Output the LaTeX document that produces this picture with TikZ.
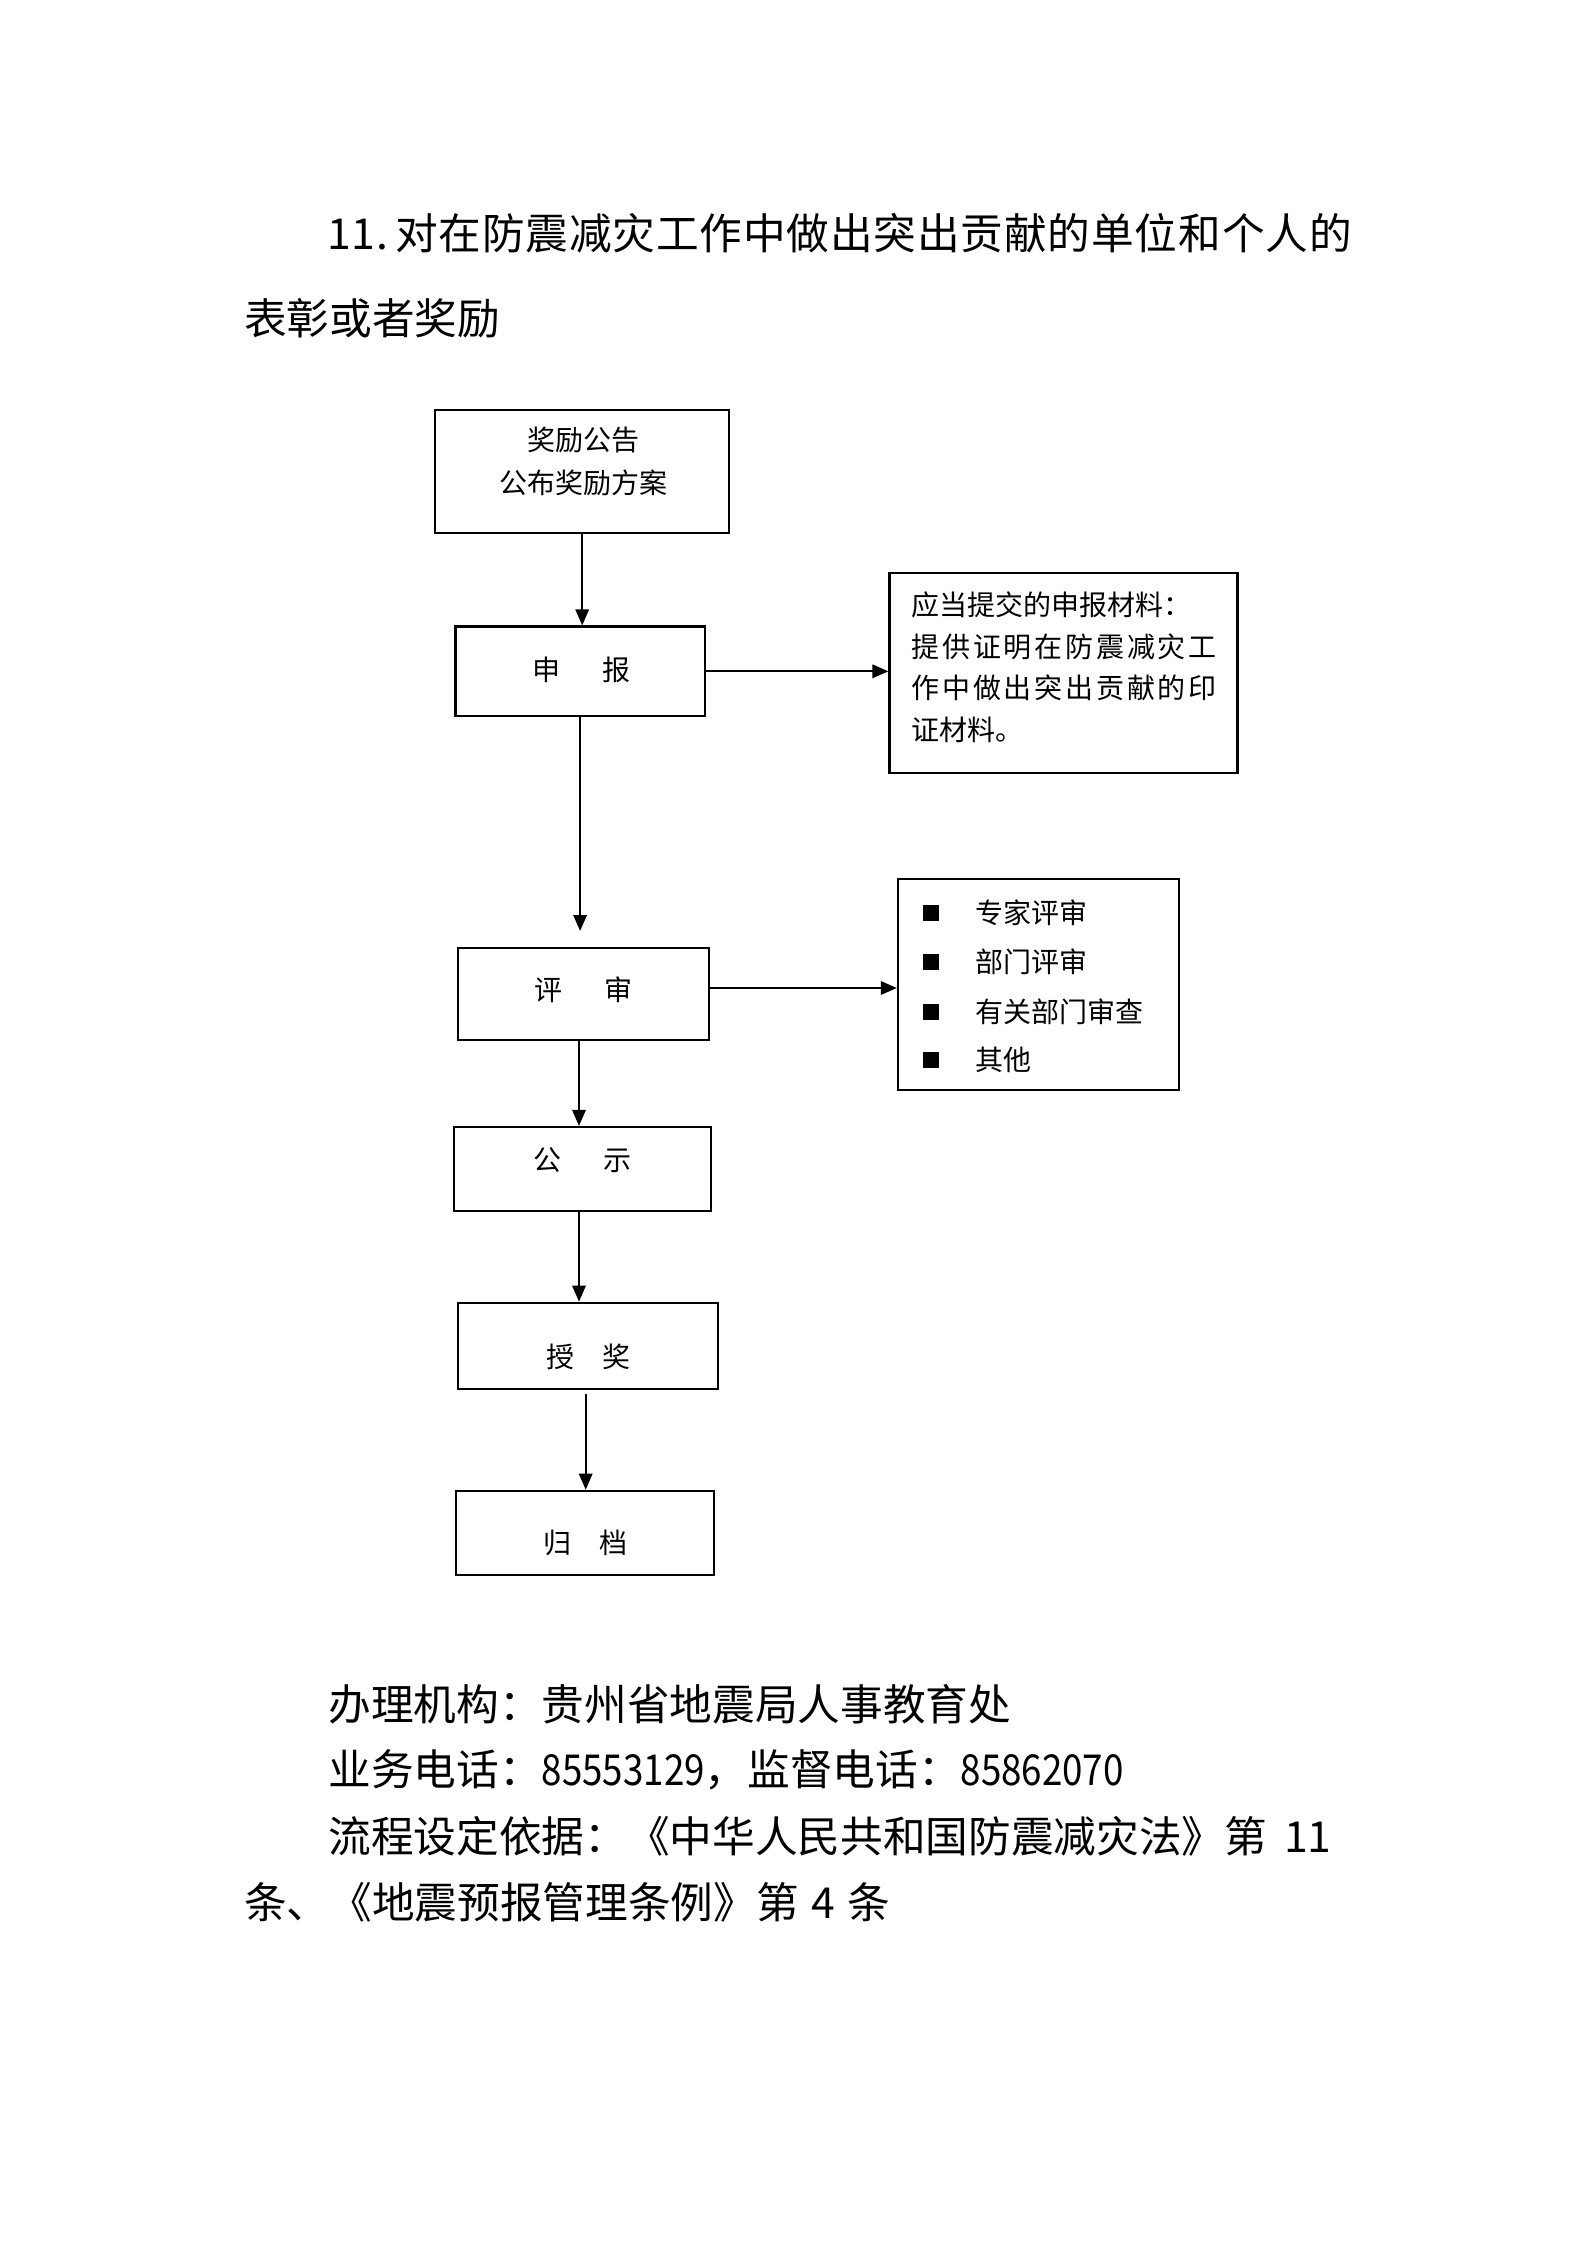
\documentclass[tikz,border=0pt]{standalone}
\usepackage{fontspec}
\usepackage{graphicx}
\setmainfont{Noto Sans CJK SC}
\usetikzlibrary{arrows.meta}
\newcommand{\dgt}[1]{\scalebox{0.86}[1]{#1}}
\begin{document}
\begin{tikzpicture}[x=0.375pt,y=-0.375pt,
  box/.style={draw,line width=0.8pt,inner sep=0pt},
  arr/.style={line width=0.8pt,-{Triangle[length=6pt,width=5pt]}},
  small/.style={font=\fontsize{10.5pt}{14pt}\selectfont,inner sep=0pt},
  big/.style={font=\fontsize{16pt}{20pt}\selectfont,inner sep=0pt,anchor=west},
  bul/.style={fill=black,inner sep=0pt,minimum size=6pt}]
\fill[white] (0,0) rectangle (1587,2245);
\useasboundingbox (0,0) rectangle (1587,2245);

% title
\node[big] (title1) at (326.6,233.5) {\addfontfeatures{LetterSpace=2}11.\,对在防震减灾工作中做出突出贡献的单位和个人的};
\node[big] (title2) at (243.5,318) {表彰或者奖励};

% boxes
\node[box,minimum width=110.1pt,minimum height=46.3pt] (b1) at (582.2,471.3) {};
\node[box,minimum width=93.5pt,minimum height=33.6pt] (sb) at (580.1,671.3) {};
\node[box,minimum width=130.5pt,minimum height=75pt] (r1) at (1063.5,673) {};
\node[box,minimum width=94.1pt,minimum height=34.5pt] (ps) at (583.5,994) {};
\node[box,minimum width=105.4pt,minimum height=79.1pt] (r2) at (1038.5,984.5) {};
\node[box,minimum width=96.4pt,minimum height=31.5pt] (gs) at (582.5,1169) {};
\node[box,minimum width=97.5pt,minimum height=32.25pt] (sj) at (587.7,1345.7) {};
\node[box,minimum width=96.9pt,minimum height=31.6pt] (gd) at (584.9,1532.9) {};

% box texts
\node[small] (t1a) at (583,440) {奖励公告};
\node[small] (t1b) at (583,483) {公布奖励方案};
\node[small] (tsb) at (581,670) {申\hspace{1.5em}报};
\node[small] (tps) at (583.6,990) {评\hspace{1.5em}审};
\node[small] (tgs) at (582,1160) {公\hspace{1.5em}示};
\node[small] (tsj) at (588,1357) {授\hspace{1em}奖};
\node[small] (tgd) at (585.5,1543) {归\hspace{1em}档};

% right box 1 text
\node[small,anchor=west] (r1a) at (911,605) {应当提交的申报材料：};
\node[small,anchor=west] (r1b) at (911,647) {\makebox[114.4pt][s]{提\hfill 供\hfill 证\hfill 明\hfill 在\hfill 防\hfill 震\hfill 减\hfill 灾\hfill 工}};
\node[small,anchor=west] (r1c) at (911,688) {\makebox[114.4pt][s]{作\hfill 中\hfill 做\hfill 出\hfill 突\hfill 出\hfill 贡\hfill 献\hfill 的\hfill 印}};
\node[small,anchor=west] (r1d) at (911,730) {证材料。};

% right box 2 bullets
\node[bul] (q1) at (931,913) {};
\node[bul] (q2) at (931,962) {};
\node[bul] (q3) at (931,1012) {};
\node[bul] (q4) at (931,1060) {};
\node[small,anchor=west] (l1) at (975.4,913) {专家评审};
\node[small,anchor=west] (l2) at (975.4,962) {部门评审};
\node[small,anchor=west] (l3) at (975.4,1012) {有关部门审查};
\node[small,anchor=west] (l4) at (975.4,1060) {其他};

% connectors
\coordinate (c2) at (580.1,931);
\coordinate (c3) at (579,1040);
\coordinate (c4) at (579,1211);
\coordinate (c5) at (585.7,1394);
\coordinate (c6) at (709,988);
\draw[arr] (b1.south) -- (b1.south |- sb.north);
\draw[arr] (sb.east) -- (sb.east -| r1.west);
\draw[arr] (sb.south) -- (c2);
\draw[arr] (c6) -- (c6 -| r2.west);
\draw[arr] (c3) -- (c3 |- gs.north);
\draw[arr] (c4) -- (c4 |- sj.north);
\draw[arr] (c5) -- (c5 |- gd.north);

% bottom text
\node[big] (f1) at (328,1704) {办理机构：贵州省地震局人事教育处};
\node[big] (f2) at (328,1770) {业务电话：\dgt{85553129}，监督电话：\dgt{85862070}};
\node[big] (f3) at (328,1836) {流程设定依据：《中华人民共和国防震减灾法》第\hspace{0.4em}11};
\node[big] (f4) at (243.5,1902) {条、《地震预报管理条例》第\hspace{0.3em}4\hspace{0.3em}条};
\end{tikzpicture}
\end{document}
